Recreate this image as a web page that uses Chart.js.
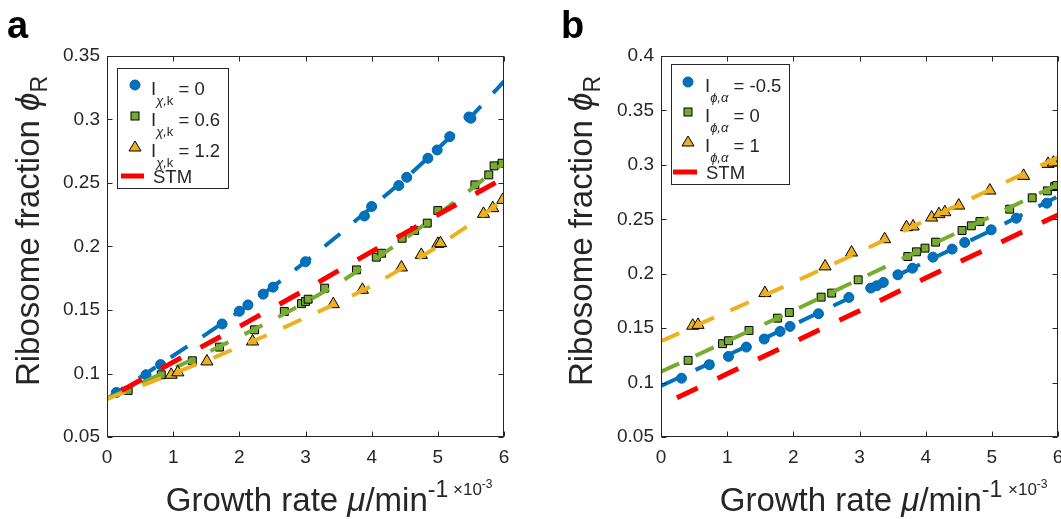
<!DOCTYPE html>
<html><head><meta charset="utf-8">
<script src="https://cdn.jsdelivr.net/npm/chart.js@4.4.1/dist/chart.umd.min.js"></script>
<style>
html,body{margin:0;padding:0;background:#fff;overflow:hidden;width:1061px;height:519px;}
body{position:relative;font-family:"Liberation Sans",Arial,Helvetica,sans-serif;color:#262626;}
canvas{position:absolute;top:0;}
.t{position:absolute;white-space:nowrap;line-height:1;}
.lab{font-weight:bold;font-size:38px;color:#000;}
.ttl{font-size:33px;}
.ytl{transform:translate(-50%,-50%) rotate(-90deg);}
.xtl{transform:translate(-50%,-50%);}
.sx{font-size:17px;}
.sx span{font-size:12px;position:relative;top:-7px;}
.leg{position:absolute;border:1px solid #262626;background:#fff;}
.lt{font-size:18.5px;}
.lt .sb{font-size:13px;font-style:italic;position:relative;top:10px;}
.mk{position:absolute;}
</style>
</head><body>
<canvas id="ca" width="540" height="519" style="left:0"></canvas>
<canvas id="cb" width="560" height="519" style="left:540px"></canvas>

<div class="t lab" style="left:7px;top:6px">a</div>
<div class="t lab" style="left:561px;top:6px">b</div>

<div class="t ttl ytl" style="left:27px;top:231px">Ribosome fraction <i>ϕ</i><span style="font-size:23px;position:relative;top:8px">R</span></div>
<div class="t ttl ytl" style="left:580px;top:231px">Ribosome fraction <i>ϕ</i><span style="font-size:23px;position:relative;top:8px">R</span></div>
<div class="t ttl xtl" style="left:307px;top:499px">Growth rate <i>μ</i>/min<span style="font-size:23px;position:relative;top:-14px">-1</span></div>
<div class="t ttl xtl" style="left:861px;top:499px">Growth rate <i>μ</i>/min<span style="font-size:23px;position:relative;top:-14px">-1</span></div>
<div class="t sx" style="left:453px;top:481px">×10<span>-3</span></div>
<div class="t sx" style="left:1008px;top:481px">×10<span>-3</span></div>

<!-- legend boxes -->
<div class="leg" style="left:117px;top:68px;width:110px;height:119px"></div>
<div class="leg" style="left:671px;top:64px;width:117px;height:119px"></div>
<svg class="mk" style="left:0;top:0" width="1061" height="519">
  <circle cx="135" cy="85" r="5" fill="#0072BD" stroke="#0062a8" stroke-width="1"/>
  <rect x="131" y="112" width="8" height="8" fill="#77AC30" stroke="#000" stroke-width="1"/>
  <polygon points="135,141 141,151 129,151" fill="#EDB120" stroke="#000" stroke-width="1"/>
  <line x1="121" y1="176" x2="144" y2="176" stroke="#FF0000" stroke-width="5"/>
  <circle cx="688" cy="82" r="5" fill="#0072BD" stroke="#0062a8" stroke-width="1"/>
  <rect x="684" y="108" width="8" height="8" fill="#77AC30" stroke="#000" stroke-width="1"/>
  <polygon points="688,136 694,146 682,146" fill="#EDB120" stroke="#000" stroke-width="1"/>
  <line x1="673" y1="172" x2="697" y2="172" stroke="#FF0000" stroke-width="5"/>
</svg>
<div class="t lt" style="left:151px;top:80px">I<span class="sb">χ,</span><span class="sb" style="font-style:normal">k</span> = 0</div>
<div class="t lt" style="left:151px;top:111px">I<span class="sb">χ,</span><span class="sb" style="font-style:normal">k</span> = 0.6</div>
<div class="t lt" style="left:151px;top:142px">I<span class="sb">χ,</span><span class="sb" style="font-style:normal">k</span> = 1.2</div>
<div class="t lt" style="left:153px;top:168px">STM</div>
<div class="t lt" style="left:705px;top:77px">I<span class="sb">ϕ,α</span> = -0.5</div>
<div class="t lt" style="left:705px;top:107px">I<span class="sb">ϕ,α</span> = 0</div>
<div class="t lt" style="left:705px;top:137px">I<span class="sb">ϕ,α</span> = 1</div>
<div class="t lt" style="left:706px;top:164px">STM</div>

<script>
// ---- axis ticks ----
const muTicks = [0, 1, 2, 3, 4, 5, 6];
const muTickLabels = ['0', '1', '2', '3', '4', '5', '6'];
const phiTicksA = [0.05, 0.1, 0.15, 0.2, 0.25, 0.3, 0.35];
const phiTickLabelsA = ['0.05', '0.1', '0.15', '0.2', '0.25', '0.3', '0.35'];
const phiTicksB = [0.05, 0.1, 0.15, 0.2, 0.25, 0.3, 0.35, 0.4];
const phiTickLabelsB = ['0.05', '0.1', '0.15', '0.2', '0.25', '0.3', '0.35', '0.4'];

// ---- panel a : measured points ----
const aCircMu  = [0.14, 0.59, 0.81, 1.74, 2.00, 2.13, 2.36, 2.51, 3.00, 3.89, 4.00, 4.41, 4.53, 4.85, 4.99, 5.18, 5.47, 5.50];
const aCircPhi = [0.085, 0.099, 0.107, 0.139, 0.149, 0.154, 0.1625, 0.168, 0.188, 0.224, 0.2315, 0.248, 0.2545, 0.2695, 0.276, 0.2865, 0.302, 0.301];
const aSqMu    = [0.32, 0.82, 1.29, 1.70, 2.23, 2.68, 2.94, 3.00, 3.04, 3.29, 3.77, 4.07, 4.15, 4.46, 4.65, 4.84, 5.00, 5.56, 5.77, 5.85, 5.97];
const aSqPhi   = [0.0867, 0.099, 0.110, 0.1208, 0.1344, 0.1488, 0.155, 0.1567, 0.1585, 0.1672, 0.1816, 0.1916, 0.1947, 0.2065, 0.2126, 0.2184, 0.2283, 0.2485, 0.2564, 0.2635, 0.2656];
const aTriMu   = [0.97, 1.07, 1.51, 2.20, 3.42, 3.86, 4.45, 4.75, 5.00, 5.04, 5.69, 5.83, 5.98];
const aTriPhi  = [0.099, 0.1009, 0.1095, 0.1252, 0.1546, 0.1659, 0.1835, 0.1934, 0.2021, 0.2026, 0.2257, 0.2302, 0.2367];
// ---- panel a : model curves ----
const aFitMu   = [0, 0.5, 1, 1.5, 2, 2.5, 3, 3.5, 4, 4.5, 5, 5.5, 6];
const aFitCirc = [0.080, 0.097, 0.114, 0.131, 0.149, 0.168, 0.188, 0.209, 0.231, 0.253, 0.277, 0.302, 0.330];
const aFitSq   = [0.080, 0.092, 0.104, 0.116, 0.129, 0.142, 0.156, 0.171, 0.188, 0.206, 0.225, 0.245, 0.266];
const aFitTri  = [0.080, 0.090, 0.100, 0.110, 0.121, 0.132, 0.144, 0.156, 0.169, 0.184, 0.200, 0.218, 0.237];
const aStmMu   = [0.22, 1, 2, 3, 4, 5, 6];
const aStmPhi  = [0.0865, 0.109, 0.137, 0.166, 0.196, 0.225, 0.254];

// ---- panel b : measured points ----
const bCircMu  = [0.31, 0.73, 1.02, 1.29, 1.56, 1.80, 1.95, 2.38, 2.84, 3.17, 3.26, 3.36, 3.58, 3.80, 4.11, 4.40, 4.59, 4.99, 5.37, 5.83];
const bCircPhi = [0.104, 0.1164, 0.124, 0.1326, 0.140, 0.147, 0.1516, 0.1632, 0.1782, 0.1868, 0.1889, 0.192, 0.199, 0.2051, 0.2152, 0.2226, 0.2287, 0.2403, 0.251, 0.2648];
const bSqMu    = [0.41, 0.93, 1.02, 1.33, 1.76, 1.94, 2.42, 2.58, 2.98, 3.73, 3.86, 3.99, 4.15, 4.55, 4.69, 4.82, 5.27, 5.61, 5.84, 5.95, 5.98];
const bSqPhi   = [0.1204, 0.1357, 0.1384, 0.1479, 0.1592, 0.1644, 0.1785, 0.1822, 0.1944, 0.2158, 0.2201, 0.2235, 0.229, 0.2397, 0.244, 0.248, 0.2593, 0.2697, 0.2761, 0.280, 0.281];
const bTriMu   = [0.48, 0.56, 1.57, 2.48, 2.88, 3.38, 3.71, 3.81, 4.09, 4.20, 4.29, 4.50, 4.97, 5.48, 5.85, 5.93];
const bTriPhi  = [0.1522, 0.153, 0.1822, 0.2067, 0.2195, 0.2317, 0.2427, 0.2434, 0.2516, 0.2547, 0.2565, 0.2626, 0.2764, 0.2899, 0.3009, 0.302];
// ---- panel b : model curves ----
const bFitMu   = [0, 1, 2, 3, 4, 5, 6];
const bFitCirc = [0.097, 0.125, 0.153, 0.182, 0.211, 0.240, 0.271];
const bFitSq   = [0.110, 0.138, 0.166, 0.195, 0.224, 0.253, 0.282];
const bFitTri  = [0.138, 0.165, 0.192, 0.220, 0.249, 0.278, 0.307];
const bStmMu   = [0.24, 1, 2, 3, 4, 5, 6];
const bStmPhi  = [0.086, 0.108, 0.137, 0.166, 0.196, 0.225, 0.254];

const BLUE = '#0072BD', GREEN = '#77AC30', YELLOW = '#EDB120', RED = '#FF0000', AX = '#262626';
const pts = (xs, ys) => xs.map((x, i) => ({x: x, y: ys[i]}));

const boxPlugin = {
  id: 'box',
  afterDatasetsDraw(chart) {
    const {ctx, chartArea: a, scales: {x, y}} = chart;
    ctx.save();
    ctx.strokeStyle = AX; ctx.lineWidth = 1;
    const L = Math.round(a.left) + 0.5, R = Math.round(a.right) - 0.5;
    const T = Math.round(a.top) + 0.5, B = Math.round(a.bottom) - 0.5;
    ctx.strokeRect(L, T, R - L, B - T);
    ctx.beginPath();
    x.ticks.forEach(t => {
      const px = Math.round(x.getPixelForValue(t.value)) + 0.5;
      ctx.moveTo(px, B); ctx.lineTo(px, B - 5);
      ctx.moveTo(px, T); ctx.lineTo(px, T + 5);
    });
    y.ticks.forEach(t => {
      const py = Math.round(y.getPixelForValue(t.value)) + 0.5;
      ctx.moveTo(L, py); ctx.lineTo(L + 5, py);
      ctx.moveTo(R, py); ctx.lineTo(R - 5, py);
    });
    ctx.stroke();
    ctx.restore();
  }
};

function lineDs(data, color, w, dash) {
  return {type: 'line', data: data, showLine: true, borderColor: color, borderWidth: w, borderDash: dash,
          borderCapStyle: 'butt', pointRadius: 0, fill: false, tension: 0};
}
function markDs(data, style, r, fill, edge) {
  return {type: 'scatter', data: data, showLine: false, pointStyle: style, pointRadius: r,
          backgroundColor: fill, borderColor: edge, borderWidth: 1, pointHoverRadius: r};
}

function makePanel(id, d, plotLeft, plotRight, canvasLeft, canvasWidth) {
  const yw = plotLeft - canvasLeft;
  return new Chart(document.getElementById(id), {
    data: {datasets: [
      lineDs(pts(d.stmMu, d.stmPhi), RED, 5, [23, 22]),
      lineDs(pts(d.fitMu, d.fitTri), YELLOW, 4, [20, 18]),
      markDs(pts(d.triMu, d.triPhi), 'triangle', 7, YELLOW, '#000'),
      lineDs(pts(d.fitMu, d.fitSq), GREEN, 4, [20, 18]),
      markDs(pts(d.sqMu, d.sqPhi), 'rect', 5.6, GREEN, '#000'),
      lineDs(pts(d.fitMu, d.fitCirc), BLUE, 4, [20, 18]),
      markDs(pts(d.circMu, d.circPhi), 'circle', 5, BLUE, '#0062a8')
    ]},
    options: {
      responsive: false, animation: false, events: [],
      layout: {padding: {left: 0, top: 56, right: canvasLeft + canvasWidth - plotRight, bottom: 0}},
      plugins: {legend: {display: false}, tooltip: {enabled: false}},
      scales: {
        x: {type: 'linear', min: 0, max: 6,
            afterBuildTicks: s => { s.ticks = muTicks.map(v => ({value: v})); },
            afterFit: s => { s.height = 519 - 437; },
            grid: {display: false, drawTicks: false}, border: {display: false},
            ticks: {padding: 9, color: AX, font: {family: '"Liberation Sans", Arial, sans-serif', size: 19},
                    callback: (v, i) => muTickLabels[i]}},
        y: {type: 'linear', min: d.yTicks[0], max: d.yTicks[d.yTicks.length - 1],
            afterBuildTicks: s => { s.ticks = d.yTicks.map(v => ({value: v})); },
            afterFit: s => { s.width = yw; },
            grid: {display: false, drawTicks: false}, border: {display: false},
            ticks: {padding: 7, color: AX, font: {family: '"Liberation Sans", Arial, sans-serif', size: 19},
                    callback: (v, i) => d.yLabels[i]}}
      }
    },
    plugins: [boxPlugin]
  });
}

makePanel('ca', {
  stmMu: aStmMu, stmPhi: aStmPhi, fitMu: aFitMu, fitCirc: aFitCirc, fitSq: aFitSq, fitTri: aFitTri,
  circMu: aCircMu, circPhi: aCircPhi, sqMu: aSqMu, sqPhi: aSqPhi, triMu: aTriMu, triPhi: aTriPhi,
  yTicks: phiTicksA, yLabels: phiTickLabelsA
}, 107, 504, 0, 540);

makePanel('cb', {
  stmMu: bStmMu, stmPhi: bStmPhi, fitMu: bFitMu, fitCirc: bFitCirc, fitSq: bFitSq, fitTri: bFitTri,
  circMu: bCircMu, circPhi: bCircPhi, sqMu: bSqMu, sqPhi: bSqPhi, triMu: bTriMu, triPhi: bTriPhi,
  yTicks: phiTicksB, yLabels: phiTickLabelsB
}, 661, 1058, 540, 560);
</script>
</body></html>
